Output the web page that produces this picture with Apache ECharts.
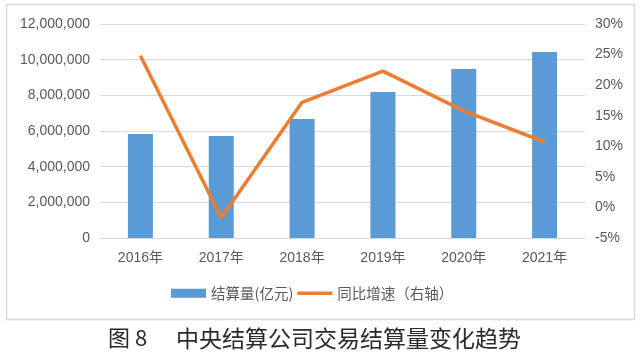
<!DOCTYPE html>
<html>
<head>
<meta charset="utf-8">
<script src="https://cdn.jsdelivr.net/npm/echarts@6/dist/echarts.min.js"></script>
<style>
html,body{margin:0;padding:0;background:#fff;}
#main{width:640px;height:357px;}
</style>
</head>
<body>
<div id="main"></div>
<script>
const categories = ['2016年','2017年','2018年','2019年','2020年','2021年'];
const volume = [5830000, 5720000, 6670000, 8190000, 9480000, 10430000];
const growth = [24.8, -1.7, 17.2, 22.3, 15.8, 10.7];
const leftTicks = {min: 0, max: 12000000, interval: 2000000};
const rightTicks = {min: -5, max: 30, interval: 5};
const caption = '图 8';
const captionMain = '中央结算公司交易结算量变化趋势';

const chart = echarts.init(document.getElementById('main'));
const labelStyle = {color: '#595959', fontSize: 14, fontFamily: 'Liberation Sans, Noto Sans CJK SC, sans-serif'};
chart.setOption({
  animation: false,
  backgroundColor: '#fff',
  grid: {left: 100, right: 55, top: 24, bottom: 119},
  legend: {
    left: 171, top: 286, padding: 0, itemGap: 4, itemWidth: 35, itemHeight: 9,
    textStyle: {color: '#595959', fontSize: 14.5, fontFamily: 'Noto Sans CJK SC, sans-serif', padding: [0,0,0,0]},
    data: [
      {name: '结算量(亿元)', icon: 'rect'},
      {name: '同比增速（右轴）', icon: 'path://M0,0 L35,0 L35,3.5 L0,3.5 Z', itemStyle: {color: '#ED7D31'}}
    ]
  },
  xAxis: {
    type: 'category', data: categories,
    axisLine: {show: true, lineStyle: {color: '#d9d9d9', width: 1}},
    axisTick: {show: false},
    axisLabel: Object.assign({margin: 13}, labelStyle)
  },
  yAxis: [
    {
      type: 'value', min: leftTicks.min, max: leftTicks.max, interval: leftTicks.interval,
      axisLine: {show: false}, axisTick: {show: false},
      splitLine: {lineStyle: {color: '#d9d9d9', width: 1}},
      axisLabel: Object.assign({margin: 10, formatter: v => v.toLocaleString('en-US')}, labelStyle)
    },
    {
      type: 'value', min: rightTicks.min, max: rightTicks.max, interval: rightTicks.interval,
      axisLine: {show: false}, axisTick: {show: false}, splitLine: {show: false},
      axisLabel: Object.assign({margin: 10, formatter: '{value}%'}, labelStyle)
    }
  ],
  series: [
    {
      name: '结算量(亿元)', type: 'bar', data: volume, barWidth: 25,
      itemStyle: {color: '#5B9BD5'}
    },
    {
      name: '同比增速（右轴）', type: 'line', yAxisIndex: 1, data: growth,
      symbol: 'none', lineStyle: {color: '#ED7D31', width: 3.5}, itemStyle: {color: '#ED7D31'}
    }
  ],
  graphic: [
    {type: 'rect', shape: {x: 6.5, y: 4.5, width: 628, height: 315}, style: {fill: 'none', stroke: '#d9d9d9', lineWidth: 1.5}, silent: true, z: -1},
    {type: 'text', left: 108, top: 327, style: {text: caption, font: '22px "Noto Sans CJK SC", serif', fill: '#2a2a2a'}},
    {type: 'text', left: 176, top: 327, style: {text: captionMain, font: '23px "Noto Sans CJK SC", serif', fill: '#2a2a2a'}}
  ]
});
</script>
</body>
</html>
